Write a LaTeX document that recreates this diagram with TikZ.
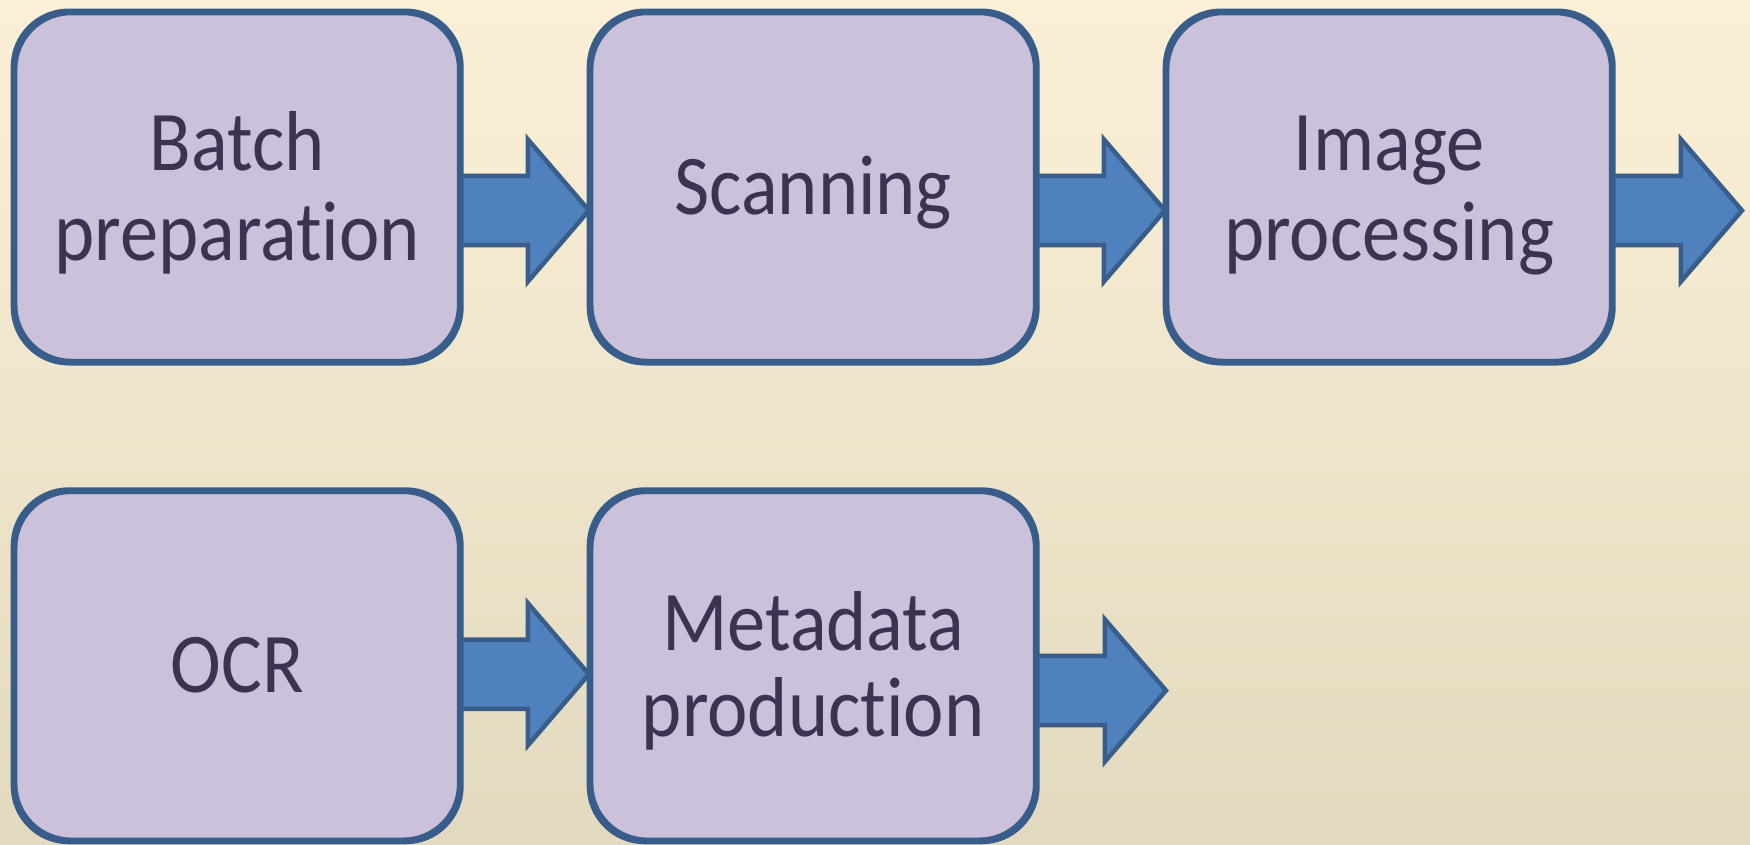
\documentclass[tikz,border=0pt]{standalone}
\usepackage{fontspec}
\setmainfont{Carlito}[Ligatures=NoCommon, FakeStretch=0.9]
\usetikzlibrary{calc}
\definecolor{bgtop}{RGB}{251,240,214}
\definecolor{bgbot}{RGB}{226,218,190}
\definecolor{boxfill}{RGB}{204,193,218}
\definecolor{edgecol}{RGB}{56,93,138}
\definecolor{arrowfill}{RGB}{79,129,189}
\definecolor{txtcol}{RGB}{63,49,81}
\newcommand{\barrow}[3]{%
  \draw[blockarrow] ($(#1.east)+(0,#3-34.6)$) -- ($(#2)+(-61,#3-34.6)$) -- ($(#2)+(-61,#3-71)$)
    -- ($(#2)+(0,#3)$) -- ($(#2)+(-61,#3+71)$) -- ($(#2)+(-61,#3+34.6)$) -- ($(#1.east)+(0,#3+34.6)$);}
\begin{document}
\begin{tikzpicture}[x=1pt,y=-1pt,
  stepbox/.style={draw=edgecol, line width=4.5pt, fill=boxfill, rounded corners=56pt,
    minimum width=444pt, minimum height=348pt, inner sep=0pt},
  line/.style={text=txtcol, font=\fontsize{85}{89}\selectfont, anchor=base, inner sep=0pt},
  blockarrow/.style={draw=edgecol, line width=4.5pt, fill=arrowfill, line join=miter}]
\useasboundingbox (0,0) rectangle (1750,844);
\fill[top color=bgtop, bottom color=bgbot] (0,0) rectangle (1750,844);
% boxes
\node[stepbox] (b1) at (237.2,187) {};
\node[stepbox] (b2) at (813.2,187) {};
\node[stepbox] (b3) at (1389.2,187) {};
\node[stepbox] (b4) at (237.2,665.8) {};
\node[stepbox] (b5) at (813.2,665.8) {};
\coordinate (e3) at ($(b3.east)+(128.5,0)$);
\coordinate (e5) at ($(b5.east)+(128.5,0)$);
% arrows
\barrow{b1}{b2.west}{23.5}
\barrow{b2}{b3.west}{23.5}
\barrow{b3}{e3}{23.5}
\barrow{b4}{b5.west}{8.5}
\barrow{b5}{e5}{24.7}
% box outlines drawn again on top of the arrow tails
\foreach \b in {b1,b2,b3,b4,b5}{
  \draw[draw=edgecol, line width=4.5pt, rounded corners=56pt] (\b.south west) rectangle (\b.north east);
}
% texts
\node[line] (t1a) at ($(b1.center)+(0,-16.2)$) {Batch};
\node[line] (t1b) at ($(b1.center)+(0,73)$) {preparation};
\node[line] (t2) at ($(b2.center)+(0,27.3)$) {Scanning};
\node[line] (t3a) at ($(b3.center)+(0,-16.2)$) {Image};
\node[line] (t3b) at ($(b3.center)+(0,73)$) {processing};
\node[line] (t4) at ($(b4.center)+(0,26.2)$) {OCR};
\node[line] (t5a) at ($(b5.center)+(0,-15.1)$) {Metadata};
\node[line] (t5b) at ($(b5.center)+(0,70.8)$) {production};
\end{tikzpicture}
\end{document}
